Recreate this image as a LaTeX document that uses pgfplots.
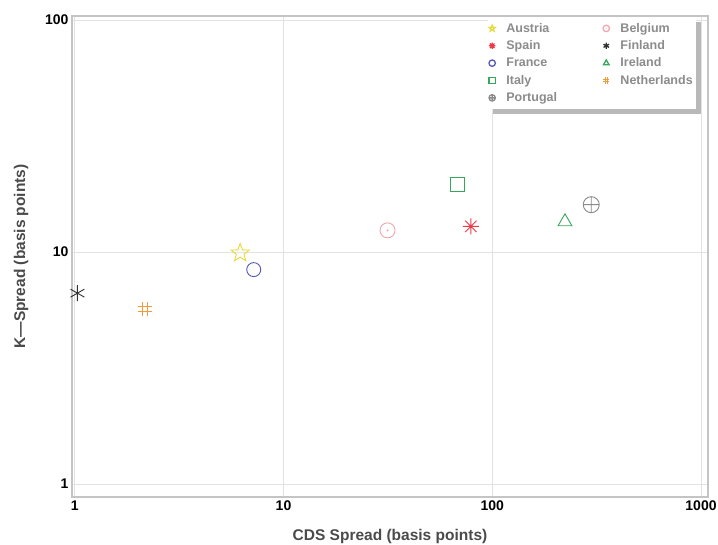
\documentclass[border=0pt]{standalone}
\usepackage{fontspec}
\setmainfont{Liberation Sans}
\usepackage{pgfplots}
\pgfplotsset{compat=1.18}
\usetikzlibrary{shadows,plotmarks}

\definecolor{cAus}{HTML}{E6DA3C}
\definecolor{cBel}{HTML}{F2A6B0}
\definecolor{cSpa}{HTML}{EE3A48}
\definecolor{cFin}{HTML}{303030}
\definecolor{cFra}{HTML}{5558B4}
\definecolor{cIre}{HTML}{36A85A}
\definecolor{cIta}{HTML}{36A85A}
\definecolor{cNet}{HTML}{F29A3A}
\definecolor{cPor}{HTML}{8A8A8A}
\definecolor{gridc}{HTML}{E2E2E2}
\definecolor{framec}{HTML}{C4C4C4}
\definecolor{labc}{HTML}{4A4A4A}
\definecolor{legc}{HTML}{8C8C8C}

\pgfdeclareplotmark{ostar}{%
  \pgfpathmoveto{\pgfpointpolar{90}{\pgfplotmarksize}}%
  \pgfpathlineto{\pgfpointpolar{126}{0.42\pgfplotmarksize}}%
  \pgfpathlineto{\pgfpointpolar{162}{\pgfplotmarksize}}%
  \pgfpathlineto{\pgfpointpolar{198}{0.42\pgfplotmarksize}}%
  \pgfpathlineto{\pgfpointpolar{234}{\pgfplotmarksize}}%
  \pgfpathlineto{\pgfpointpolar{270}{0.42\pgfplotmarksize}}%
  \pgfpathlineto{\pgfpointpolar{306}{\pgfplotmarksize}}%
  \pgfpathlineto{\pgfpointpolar{342}{0.42\pgfplotmarksize}}%
  \pgfpathlineto{\pgfpointpolar{18}{\pgfplotmarksize}}%
  \pgfpathlineto{\pgfpointpolar{54}{0.42\pgfplotmarksize}}%
  \pgfpathclose\pgfusepathqstroke}
\pgfdeclareplotmark{odotm}{%
  \pgfpathcircle{\pgfpointorigin}{\pgfplotmarksize}\pgfusepathqstroke
  \pgfpathcircle{\pgfpointorigin}{0.15\pgfplotmarksize}\pgfusepathqfill}
\pgfdeclareplotmark{asteight}{%
  \pgfpathmoveto{\pgfqpoint{-\pgfplotmarksize}{0pt}}\pgfpathlineto{\pgfqpoint{\pgfplotmarksize}{0pt}}%
  \pgfpathmoveto{\pgfqpoint{0pt}{-\pgfplotmarksize}}\pgfpathlineto{\pgfqpoint{0pt}{\pgfplotmarksize}}%
  \pgfpathmoveto{\pgfpointpolar{45}{\pgfplotmarksize}}\pgfpathlineto{\pgfpointpolar{225}{\pgfplotmarksize}}%
  \pgfpathmoveto{\pgfpointpolar{135}{\pgfplotmarksize}}\pgfpathlineto{\pgfpointpolar{315}{\pgfplotmarksize}}%
  \pgfusepathqstroke}
\pgfdeclareplotmark{hashm}{%
  \pgfpathmoveto{\pgfqpoint{-0.35\pgfplotmarksize}{-\pgfplotmarksize}}\pgfpathlineto{\pgfqpoint{-0.35\pgfplotmarksize}{\pgfplotmarksize}}%
  \pgfpathmoveto{\pgfqpoint{0.35\pgfplotmarksize}{-\pgfplotmarksize}}\pgfpathlineto{\pgfqpoint{0.35\pgfplotmarksize}{\pgfplotmarksize}}%
  \pgfpathmoveto{\pgfqpoint{-\pgfplotmarksize}{-0.35\pgfplotmarksize}}\pgfpathlineto{\pgfqpoint{\pgfplotmarksize}{-0.35\pgfplotmarksize}}%
  \pgfpathmoveto{\pgfqpoint{-\pgfplotmarksize}{0.35\pgfplotmarksize}}\pgfpathlineto{\pgfqpoint{\pgfplotmarksize}{0.35\pgfplotmarksize}}%
  \pgfusepathqstroke}

\begin{document}
\begin{tikzpicture}
\path[use as bounding box] (-72pt,-47pt) rectangle (646pt,497pt);
\begin{axis}[
  scale only axis,
  width=636pt, height=481pt,
  xmode=log, ymode=log,
  xmin=0.97, xmax=1080,
  ymin=0.88, ymax=104,
  xtick={1,10,100,1000}, xticklabels={1,10,100,1000},
  ytick={1,10,100}, yticklabels={1,10,100},
  xminorticks=false, yminorticks=false,
  major tick length=0pt, minor tick length=0pt,
  grid=major,
  major grid style={gridc, line width=0.8pt},
  axis line style={framec, line width=1.2pt},
  tick label style={font=\bfseries\fontsize{14}{16}\selectfont, text=black},
  xlabel={CDS Spread (basis points)},
  ylabel={K\textemdash Spread (basis points)},
  label style={font=\bfseries\fontsize{15.5}{18}\selectfont, text=labc},
  xlabel style={at={(axis description cs:0.5,-0.083)}, anchor=center},
  ylabel style={at={(axis description cs:-0.080,0.5)}, anchor=center},
  legend columns=2,
  legend cell align=left,
  legend image code/.code={\draw[#1, mark size=3.2pt, line width=1.3pt] plot coordinates {(0cm,0cm)};},
  legend style={
    at={(axis description cs:0.981,0.998)}, anchor=north east,
    draw=none, fill=white,
    drop shadow={shadow xshift=5pt, shadow yshift=-5pt, fill=gray!55, opacity=1},
    font=\bfseries\fontsize{12.5}{14}\selectfont, text=legc,
    inner xsep=1pt, inner ysep=4pt,
    row sep=2.8pt,
    /tikz/column 1/.style={column sep=9pt},
    /tikz/column 2/.style={column sep=44pt},
    /tikz/column 3/.style={column sep=9pt},
  },
  every axis plot/.append style={only marks, line width=0.9pt, mark size=7.5pt},
]
\addplot[color=cAus, mark=ostar, mark size=9.5pt] coordinates {(6.2,9.9)};
\addlegendentry{Austria}
\addplot[color=cBel, mark=odotm, mark size=7.5pt] coordinates {(31.5,12.4)};
\addlegendentry{Belgium}
\addplot[color=cSpa, mark=asteight, mark size=8pt] coordinates {(79,12.9)};
\addlegendentry{Spain}
\addplot[color=cFin, mark=asterisk, mark size=8pt] coordinates {(1.03,6.65)};
\addlegendentry{Finland}
\addplot[color=cFra, mark=o, mark size=7pt] coordinates {(7.2,8.4)};
\addlegendentry{France}
\addplot[color=cIre, mark=triangle, mark size=8pt] coordinates {(223,13.5)};
\addlegendentry{Ireland}
\addplot[color=cIta, mark=square, mark size=7pt] coordinates {(68,19.6)};
\addlegendentry{Italy}
\addplot[color=cNet, mark=hashm, mark size=7pt] coordinates {(2.16,5.68)};
\addlegendentry{Netherlands}
\addplot[color=cPor, mark=oplus, mark size=8pt] coordinates {(298,16.0)};
\addlegendentry{Portugal}
\end{axis}
\end{tikzpicture}
\end{document}
